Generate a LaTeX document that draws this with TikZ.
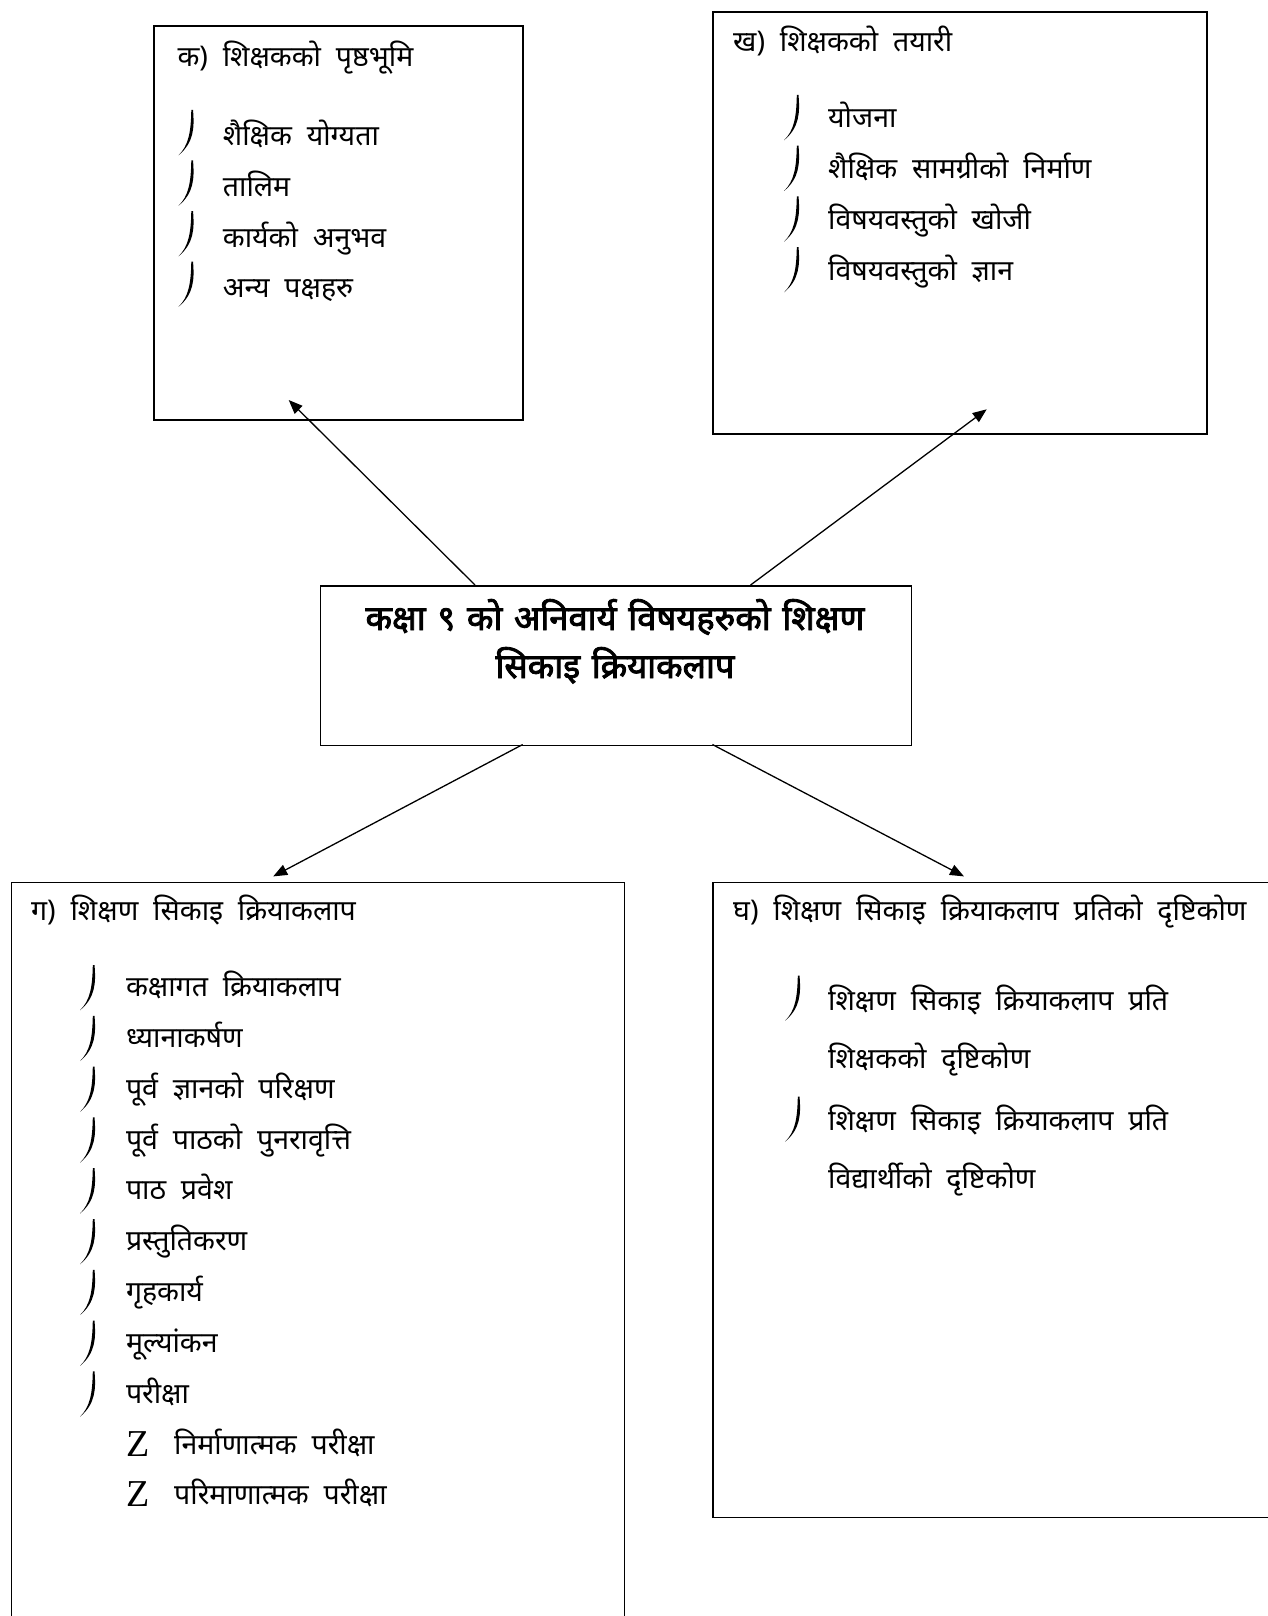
\documentclass[tikz,border=0pt]{standalone}
\usepackage{fontspec}
\setmainfont{Liberation Serif}
\newfontfamily\dev[Script=Devanagari, WordSpace=2]{Noto Sans}
\newfontfamily\devb[Script=Devanagari, FakeBold=2.5, WordSpace=1.3]{Noto Sans}
\usetikzlibrary{arrows.meta}
\tikzset{
  box/.style={draw, line width=1.8pt, rectangle, inner sep=0pt, anchor=north west},
  hd/.style={anchor=base west, inner sep=0pt, font=\dev\fontsize{28.5}{32}\selectfont},
  itm/.style={anchor=base west, inner sep=0pt, align=left, font=\dev\fontsize{28.5}{58}\selectfont},
  zb/.style={anchor=base west, inner sep=0pt, font=\fontsize{38}{38}\selectfont},
  ttl/.style={anchor=base, inner sep=0pt, align=center, font=\devb\fontsize{34.5}{48}\selectfont},
  arr/.style={line width=1.3pt, -{Triangle[length=14pt,width=11pt]}},
  bullet/.pic={\fill (7.5,-22.5) .. controls (9,-5) and (8.5,10) .. (-7,22.8) .. controls (3,13) and (5.4,0) .. (5.8,-22.5) -- cycle;}
}
\begin{document}
\begin{tikzpicture}[x=1pt,y=-1pt]
\useasboundingbox (0,0) rectangle (1267,1616);
% boxes
\node[box, minimum width=369pt, minimum height=394pt] (bk) at (153,25) {};
\node[box, minimum width=494pt, minimum height=421.5pt] (bkh) at (712,11.5) {};
\node[box, minimum width=591pt, minimum height=159.5pt] (c) at (319.5,585) {};
\node[box, minimum width=613pt, minimum height=760pt] (bg) at (10.5,881.5) {};
\node[box, minimum width=580pt, minimum height=635pt] (bgh) at (712,881.5) {};
% title (anchor = baseline of last line)
\node[ttl] (title) at (615,678) {कक्षा ९ को अनिवार्य विषयहरुको शिक्षण\\सिकाइ क्रियाकलाप};
% box k
\node[hd] (hk) at (177.3,67) {क) शिक्षकको पृष्ठभूमि};
\node[itm] (k1) at (222.7,146) {शैक्षिक योग्यता};
\node[itm] (k2) at (222.7,196.5) {तालिम};
\node[itm] (k3) at (222.7,247) {कार्यको अनुभव};
\node[itm] (k4) at (222.7,297.5) {अन्य पक्षहरु};
\foreach \y in {0,1,2,3} \pic at (185.5,{132.5+50.5*\y}) {bullet};
% box kh
\node[hd] (hkh) at (733,52) {ख) शिक्षकको तयारी};
\node[itm] (kh1) at (828,128) {योजना};
\node[itm] (kh2) at (828,178.7) {शैक्षिक सामग्रीको निर्माण};
\node[itm] (kh3) at (828,229.4) {विषयवस्तुको खोजी};
\node[itm] (kh4) at (828,280.1) {विषयवस्तुको ज्ञान};
\foreach \y in {0,1,2,3} \pic at (791,{117.5+50.7*\y}) {bullet};
% box g
\node[hd] (hg) at (31,920) {ग) शिक्षण सिकाइ क्रियाकलाप};
\node[itm] (g1) at (125.8,996.7) {कक्षागत क्रियाकलाप};
\node[itm] (g2) at (125.8,1047.5) {ध्यानाकर्षण};
\node[itm] (g3) at (125.8,1098.3) {पूर्व ज्ञानको परिक्षण};
\node[itm] (g4) at (125.8,1149.1) {पूर्व पाठको पुनरावृत्ति};
\node[itm] (g5) at (125.8,1199.9) {पाठ प्रवेश};
\node[itm] (g6) at (125.8,1250.7) {प्रस्तुतिकरण};
\node[itm] (g7) at (125.8,1301.5) {गृहकार्य};
\node[itm] (g8) at (125.8,1352.3) {मूल्यांकन};
\node[itm] (g9) at (125.8,1403.1) {परीक्षा};
\foreach \y in {0,...,8} \pic at (87,{987.5+50.8*\y}) {bullet};
\node[zb] (z1) at (126,1456.7) {Z};
\node[itm] (g10) at (174,1454) {निर्माणात्मक परीक्षा};
\node[zb] (z2) at (126,1506) {Z};
\node[itm] (g11) at (174,1504.5) {परिमाणात्मक परीक्षा};
% box gh (anchor = baseline of last line)
\node[hd] (hgh) at (733,920) {घ) शिक्षण सिकाइ क्रियाकलाप प्रतिको दृष्टिकोण};
\node[itm] (gh1) at (828,1068) {शिक्षण सिकाइ क्रियाकलाप प्रति\\शिक्षकको दृष्टिकोण};
\node[itm] (gh2) at (828,1188.7) {शिक्षण सिकाइ क्रियाकलाप प्रति\\विद्यार्थीको दृष्टिकोण};
\pic at (792,998) {bullet};
\pic at (792,1119) {bullet};
% connectors
\coordinate (s1) at (475,585);
\coordinate (t1) at (288.7,400);
\coordinate (s2) at (750.6,585);
\coordinate (t2) at (986.7,409.3);
\coordinate (s3) at (522.7,744.5);
\coordinate (t3) at (273.2,876.4);
\coordinate (s4) at (712.4,744.5);
\coordinate (t4) at (964,876.4);
\draw[arr] (s1) -- (t1);
\draw[arr] (s2) -- (t2);
\draw[arr] (s3) -- (t3);
\draw[arr] (s4) -- (t4);
\end{tikzpicture}
\end{document}
